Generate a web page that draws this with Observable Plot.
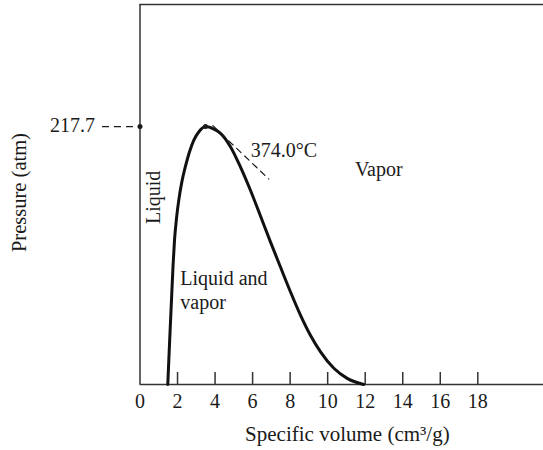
<!DOCTYPE html>
<html>
<head>
<meta charset="utf-8">
<script src="https://cdn.jsdelivr.net/npm/d3@7"></script>
<script src="https://cdn.jsdelivr.net/npm/@observablehq/plot@0.6"></script>
<style>
  html, body { margin: 0; padding: 0; background: #fff; }
  #chart svg { display: block; }
</style>
</head>
<body>
<div id="chart"></div>
<script>
// Saturation dome of water: specific volume (cm3/g) vs pressure (atm)
const domeVolume   = [1.48, 1.58, 1.68, 1.76, 1.84, 1.95, 2.07, 2.23, 2.42, 2.63, 2.87, 3.15, 3.49, 3.94, 4.29, 4.82, 5.35, 5.89, 6.42, 6.95, 7.49, 8.02, 8.55, 9.08, 9.62, 10.33, 11.04, 11.92];
const domePressure = [0,    37,   72,   100,  122,  141,  156,  171,  184,  196,  206.3, 213.5, 217.7, 215.5, 212.0, 200.7, 183.7, 163.7, 142.2, 120.4, 98.9, 78.1, 58.6, 41.6, 27.6, 13.7, 5.2, 0];

// Critical isotherm tangent (374.0 °C), dashed
const isothermVolume   = [3.80, 6.78];
const isothermPressure = [217.6, 172.6];

const criticalPressure = 217.7;
const criticalVolume = 3.49;

const xTicks = [0, 2, 4, 6, 8, 10, 12, 14, 16, 18];
const xDomain = [0, 21.5];
const yDomain = [0, 320.7];

const regionLabels = ["Vapor", "Liquid and", "vapor", "374.0°C"];
const regionLabelV = [11.45, 2.15, 2.15, 5.90];
const regionLabelP = [181.5, 89.5, 69.0, 197.0];

const dome = domeVolume.map((v, i) => ({v, p: domePressure[i]}));
const isotherm = isothermVolume.map((v, i) => ({v, p: isothermPressure[i]}));
const labels = regionLabels.map((t, i) => ({t, v: regionLabelV[i], p: regionLabelP[i]}));

const ink = "#1a1a1a";
const font = "'Liberation Serif', 'Times New Roman', serif";

const chart = Plot.plot({
  width: 543,
  height: 450,
  marginLeft: 139.5,
  marginRight: 0,
  marginTop: 4,
  marginBottom: 66,
  style: {fontFamily: font, fontSize: "20px", color: ink, background: "#fff", overflow: "visible"},
  x: {domain: xDomain, axis: null},
  y: {domain: yDomain, axis: null},
  marks: [
    // frame lines
    Plot.ruleX([0], {stroke: "#333", strokeWidth: 1.5}),
    Plot.ruleY([0, yDomain[1]], {stroke: "#333", strokeWidth: 1.5}),
    // inward ticks
    Plot.tickX(xTicks.filter(d => d > 0), {x: d => d, stroke: "#333", strokeWidth: 1.5, insetTop: 368}),
    Plot.axisX(xTicks, {tickSize: 0, tickPadding: 9, fontSize: 20, label: null, stroke: "none", fill: ink}),
    // dashed guide to the y axis
    Plot.ruleY([criticalPressure], {x1: -2.0, x2: 0, stroke: ink, strokeWidth: 1.2, strokeDasharray: "7,5"}),
    // saturation dome
    Plot.line(dome, {x: "v", y: "p", curve: "monotone-x", stroke: "#111", strokeWidth: 3}),
    // dashed critical isotherm
    Plot.line(isotherm, {x: "v", y: "p", stroke: ink, strokeWidth: 1.2, strokeDasharray: "6,5", dx: 1.5, dy: -1}),
    Plot.dot([{v: 0, p: criticalPressure}, {v: criticalVolume, p: criticalPressure}], {x: "v", y: "p", r: 2.5, fill: ink, stroke: "none"}),
    // labels
    Plot.text([criticalPressure], {x: -2.4, y: d => d, text: d => String(d), textAnchor: "end", fontSize: 20, fill: ink, dy: -1}),
    Plot.text(labels, {x: "v", y: "p", text: "t", textAnchor: "start", fontSize: 20, fill: ink}),
    Plot.text(["Liquid"], {x: 0.73, y: 158, text: d => d, rotate: -90, fontSize: 20, fill: ink}),
    Plot.text(["Pressure (atm)"], {x: -6.45, y: 162, text: d => d, rotate: -90, fontSize: 20.5, fill: ink}),
    Plot.text(["Specific volume (cm³/g)"], {x: 11.05, y: -42.4, text: d => d, fontSize: 21, fill: ink})
  ]
});
document.getElementById("chart").appendChild(chart);
</script>
</body>
</html>
